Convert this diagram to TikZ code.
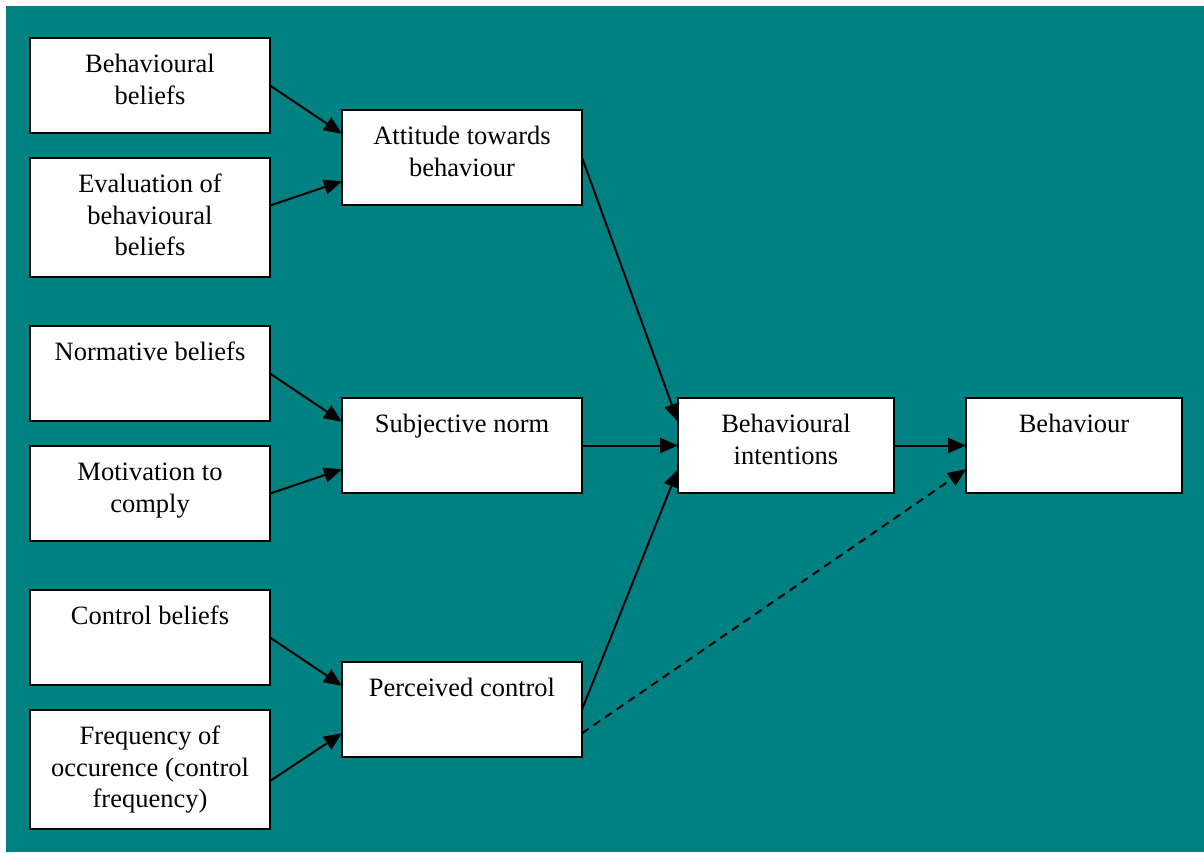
\documentclass[tikz,border=0pt]{standalone}
\usepackage{fontspec}
\setmainfont{Liberation Serif}
\usetikzlibrary{arrows.meta,calc}
\definecolor{teal0}{RGB}{0,128,128}
\newcommand{\bxt}[3]{\begin{minipage}[c][#2][t]{#1}\fontsize{26.5}{31.5}\selectfont\centering\rule{0pt}{34.5pt}#3\end{minipage}}
\begin{document}
\begin{tikzpicture}[x=1pt,y=-1pt,
  box/.style={draw=black, fill=white, line width=2.2pt, inner sep=0pt, outer sep=0pt},
  arr/.style={line width=2pt, -{Triangle[length=18pt,width=15pt]}},
  darr/.style={arr, dash pattern=on 8pt off 6pt}]
\fill[white] (0,0) rectangle (1204,852);
\fill[teal0] (6,6) rectangle (1204,852);
% left column
\node[box] (bb) at (150,85.5) {\bxt{240pt}{95pt}{Behavioural\\beliefs}};
\node[box] (ev) at (150,217.5) {\bxt{240pt}{119pt}{Evaluation of\\behavioural\\beliefs}};
\node[box] (nb) at (150,373.5) {\bxt{240pt}{95pt}{Normative beliefs}};
\node[box] (mc) at (150,493.5) {\bxt{240pt}{95pt}{Motivation to\\comply}};
\node[box] (cb) at (150,637.5) {\bxt{240pt}{95pt}{Control beliefs}};
\node[box] (fr) at (150,769.5) {\bxt{240pt}{119pt}{Frequency of\\occurence (control\\frequency)}};
% middle column
\node[box] (att) at (462,157.5) {\bxt{240pt}{95pt}{Attitude towards\\behaviour}};
\node[box] (sn) at (462,445.5) {\bxt{240pt}{95pt}{Subjective norm}};
\node[box] (pc) at (462,709.5) {\bxt{240pt}{95pt}{Perceived control}};
% right
\node[box] (bi) at (786,445.5) {\bxt{216pt}{95pt}{Behavioural\\intentions}};
\node[box] (bh) at (1074,445.5) {\bxt{216pt}{95pt}{Behaviour}};
% connectors
\draw[arr] (bb.east) -- ($(att.north west)!0.25!(att.south west)$);
\draw[arr] ($(ev.north east)+(0,47.5)$) -- ($(att.north west)!0.75!(att.south west)$);
\draw[arr] (nb.east) -- ($(sn.north west)!0.25!(sn.south west)$);
\draw[arr] (mc.east) -- ($(sn.north west)!0.75!(sn.south west)$);
\draw[arr] (cb.east) -- ($(pc.north west)!0.25!(pc.south west)$);
\draw[arr] ($(fr.north east)+(0,71)$) -- ($(pc.north west)!0.75!(pc.south west)$);
\draw[arr] (att.east) -- ($(bi.north west)!0.25!(bi.south west)$);
\draw[arr] (sn.east) -- (bi.west);
\draw[arr] (pc.east) -- ($(bi.north west)!0.75!(bi.south west)$);
\draw[arr] (bi.east) -- (bh.west);
\draw[darr] ($(pc.north east)!0.75!(pc.south east)$) -- ($(bh.north west)!0.75!(bh.south west)$);
\end{tikzpicture}
\end{document}
